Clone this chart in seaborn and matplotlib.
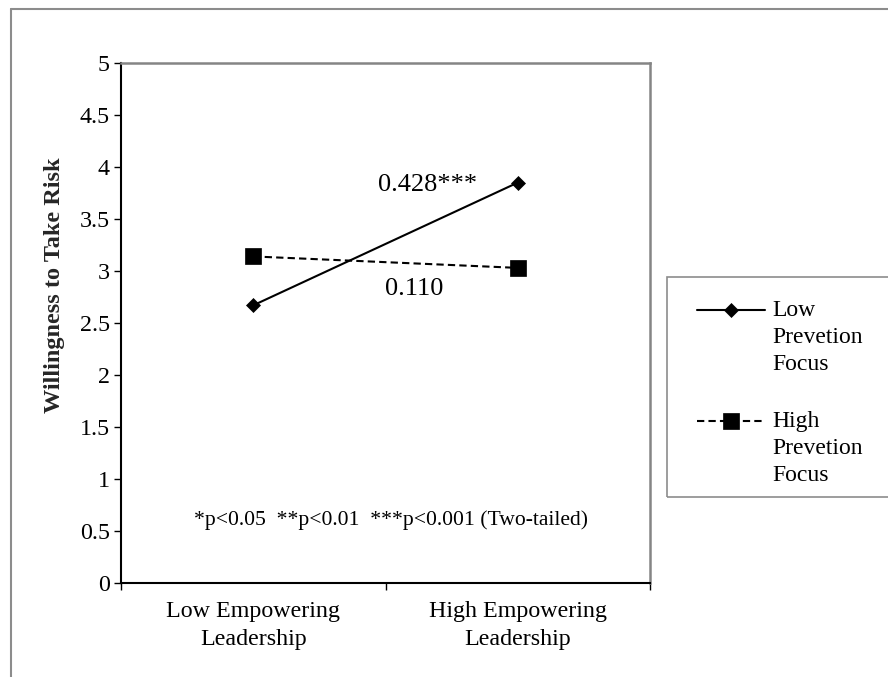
import numpy as np
import pandas as pd
import matplotlib
matplotlib.use("Agg")
import matplotlib.pyplot as plt
import seaborn as sns
from matplotlib.legend_handler import HandlerLine2D
from matplotlib.transforms import Affine2D
from matplotlib.lines import Line2D
from matplotlib.patches import Rectangle

# ---- data ----
conditions = ["Low Empowering\nLeadership", "High Empowering\nLeadership"]
series = ["Low\nPrevetion\nFocus", "High\nPrevetion\nFocus"]
low_prevention = [2.67, 3.85]
high_prevention = [3.14, 3.03]
slope_labels = ["0.428***", "0.110"]
y_ticks = [0, 0.5, 1, 1.5, 2, 2.5, 3, 3.5, 4, 4.5, 5]
y_tick_labels = ["0", "0.5", "1", "1.5", "2", "2.5", "3", "3.5", "4", "4.5", "5"]
note = "*p<0.05  **p<0.01  ***p<0.001 (Two-tailed)"
y_label = "Willingness to Take Risk"

df = pd.DataFrame({
    "condition": conditions * 2,
    "pos": [conditions.index(c) for c in conditions] * 2,
    "value": low_prevention + high_prevention,
    "series": [series[0]] * 2 + [series[1]] * 2,
})

sns.set_theme(style="white")
plt.rcParams["font.family"] = ["Liberation Serif", "DejaVu Serif"]
plt.rcParams["text.color"] = "black"
plt.rcParams["xtick.color"] = "black"
plt.rcParams["ytick.color"] = "black"

FS = 17.3
fig = plt.figure(figsize=(8.88, 6.77), dpi=100)
ax = fig.add_axes([121 / 888, 1 - 583 / 677, 529 / 888, 520 / 677])

sns.lineplot(data=df, x="pos", y="value", hue="series", style="series",
             hue_order=series, style_order=series,
             palette=["black", "black"],
             markers={series[0]: "D", series[1]: "s"},
             dashes={series[0]: "", series[1]: (3.5, 2)},
             linewidth=1.5, legend=False, ax=ax)
for ln in ax.lines:
    ln.set_markeredgecolor("black")
    ln.set_markerfacecolor("black")
    ln.set_markeredgewidth(0.5)
    if ln.get_marker() == "D":
        ln.set_markersize(7.5)
    else:
        ln.set_markersize(11)

ax.set_xlim(-0.5, 1.5)
ax.set_ylim(0, 5)
ax.set_yticks(y_ticks, labels=y_tick_labels)
ax.set_xticks([-0.5, 0.5, 1.5], labels=["", "", ""])
ax.set_xticks([0, 1], labels=conditions, minor=True)
ax.tick_params(axis="x", which="major", direction="out", length=5, width=1, bottom=True)
ax.tick_params(axis="x", which="minor", length=0, pad=13, labelsize=FS)
ax.tick_params(axis="y", direction="out", length=5, width=1, left=True, labelsize=FS, pad=3)
for t in ax.get_xticklabels(minor=True):
    t.set_linespacing(1.42)
ax.set_xlabel("")
ax.set_ylabel(y_label, fontsize=17.5, fontweight="bold", va="center")
ax.yaxis.set_label_coords(-0.125, 0.573)

for side in ["left", "bottom"]:
    ax.spines[side].set_color("black")
    ax.spines[side].set_linewidth(1.5)
for side in ["top", "right"]:
    ax.spines[side].set_color("#858585")
    ax.spines[side].set_linewidth(1.8)

ax.text(0.66, 3.83, slope_labels[0], fontsize=19, ha="center", va="center")
ax.text(0.61, 2.83, slope_labels[1], fontsize=19, ha="center", va="center")
ax.text(0.52, 0.6, note, fontsize=15.6, ha="center", va="center")

# outer frame (left and top edges)
fig.add_artist(Line2D([11 / 888, 11 / 888], [0, 1 - 9 / 677], transform=fig.transFigure,
                      color="#8c8c8c", lw=1.5))
fig.add_artist(Line2D([11 / 888, 1], [1 - 9 / 677, 1 - 9 / 677], transform=fig.transFigure,
                      color="#8c8c8c", lw=1.5))

# legend
class FirstLineHandler(HandlerLine2D):
    def __init__(self, shift, **kw):
        super().__init__(**kw)
        self.shift = shift

    def create_artists(self, legend, orig_handle, xdescent, ydescent, width, height,
                       fontsize, trans):
        arts = super().create_artists(legend, orig_handle, xdescent, ydescent, width,
                                      height, fontsize, trans)
        off = Affine2D().translate(0, self.shift) + trans
        for a in arts:
            a.set_transform(off)
        return arts

LFS = 17
LS = 1.36
handles = list(ax.lines)
hmap = {h: FirstLineHandler(shift=19.4) for h in handles}
leg = fig.legend(handles=handles, labels=series, loc="upper left",
                 bbox_to_anchor=(697 / 888, 1 - 300 / 677), frameon=False,
                 fontsize=LFS, handlelength=2.9, handletextpad=0.3,
                 borderpad=0, borderaxespad=0, labelspacing=1.55,
                 handler_map=hmap)
for t in leg.get_texts():
    t.set_linespacing(LS)

fig.add_artist(Rectangle((667 / 888, 1 - 497 / 677), 1, 220 / 677,
                         transform=fig.transFigure, fill=False,
                         ec="#8c8c8c", lw=1.2, clip_on=False))

fig.savefig("out.png", dpi=100)
